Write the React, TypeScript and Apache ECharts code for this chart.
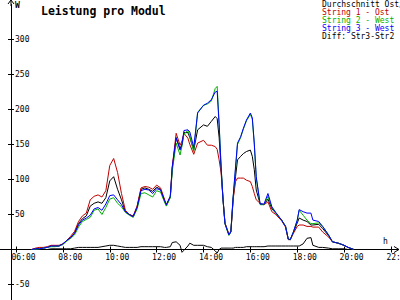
import React, { useEffect, useRef } from "react";
import * as echarts from "echarts";

const TIMES = [
  "06:40", "06:50", "07:00", "07:10", "07:20", "07:30", "07:40", "07:50",
  "08:00", "08:10", "08:20", "08:30", "08:40", "08:50", "09:00", "09:10",
  "09:20", "09:30", "09:40", "09:50", "10:00", "10:10", "10:20", "10:30",
  "10:40", "10:50", "11:00", "11:10", "11:20", "11:30", "11:40", "11:50",
  "12:00", "12:10", "12:20", "12:25", "12:35", "12:40", "12:50", "13:00",
  "13:05", "13:10", "13:20", "13:25", "13:35", "13:45", "14:00", "14:10",
  "14:20", "14:30", "14:35", "14:40", "14:45", "14:50", "14:55", "15:05",
  "15:10", "15:12", "15:16", "15:22", "15:27", "15:35", "15:42", "15:50",
  "16:00", "16:05", "16:10", "16:15", "16:25", "16:35", "16:45", "16:55",
  "17:05", "17:20", "17:30", "17:37", "17:42", "17:50", "18:00", "18:05",
  "18:15", "18:25", "18:35", "18:40", "18:55", "19:05", "19:20", "19:30",
  "19:45", "20:00", "20:10", "20:25",
];

const STRING1 = [
  0, 2, 3, 3, 4, 6, 6, 6,
  8, 13, 19, 26, 40, 48, 52, 71,
  76, 78, 75, 84, 120, 130, 110, 80,
  56, 50, 48, 62, 88, 90, 89, 86,
  92, 88, 72, 64, 76, 118, 166, 149,
  155, 166, 159, 150, 136, 152, 156, 149,
  149, 147, 143, 128, 110, 72, 38, 22,
  26, 40, 72, 97, 102, 102, 102, 99,
  97, 90, 80, 71, 66, 64, 68, 54,
  50, 41, 32, 14, 14, 23, 33, 35,
  35, 33, 33, 32, 32, 25, 18, 11,
  9, 6, 3, 0,
];

const STRING2 = [
  0, 0, 1, 2, 3, 4, 4, 5,
  7, 12, 16, 21, 32, 40, 43, 46,
  56, 58, 50, 60, 72, 74, 66, 61,
  53, 49, 46, 58, 80, 81, 78, 75,
  84, 82, 68, 62, 74, 112, 152, 135,
  148, 165, 170, 162, 140, 196, 206, 208,
  212, 230, 233, 180, 120, 71, 37, 20,
  25, 42, 75, 115, 150, 160, 172, 184,
  193, 186, 150, 102, 64, 64, 76, 60,
  52, 42, 33, 15, 14, 25, 42, 56,
  49, 42, 37, 37, 38, 33, 21, 11,
  9, 6, 3, 0,
];

const STRING3 = [
  0, 1, 1, 2, 3, 5, 5, 5,
  8, 13, 17, 23, 35, 42, 45, 49,
  58, 60, 56, 65, 77, 78, 71, 64,
  54, 50, 47, 60, 84, 86, 85, 80,
  87, 85, 70, 64, 76, 118, 159, 142,
  150, 170, 171, 168, 146, 195, 206, 209,
  214, 225, 226, 178, 118, 71, 37, 21,
  25, 42, 76, 118, 152, 161, 173, 185,
  195, 188, 152, 104, 65, 65, 80, 61,
  53, 42, 33, 15, 14, 25, 42, 57,
  54, 52, 52, 42, 40, 33, 21, 11,
  9, 6, 3, 0,
];

const AVERAGE = [
  0, 1, 2, 2, 3, 5, 5, 5,
  8, 13, 17, 24, 37, 44, 48, 62,
  66, 68, 66, 74, 98, 104, 86, 71,
  54, 50, 47, 61, 86, 88, 86, 83,
  89, 86, 70, 63, 75, 116, 160, 144,
  151, 167, 167, 160, 142, 171, 178, 176,
  183, 190, 187, 160, 116, 71, 37, 21,
  25, 41, 74, 104, 128, 133, 137, 140,
  142, 133, 114, 85, 65, 64, 72, 58,
  52, 42, 33, 15, 14, 24, 38, 45,
  42, 40, 35, 35, 36, 30, 20, 11,
  9, 6, 3, 0,
];

const DIFF = [
  0, 0, 0, 0, 0, 1, 1, 1,
  1, 1, 1, 2, 3, 3, 3, 3,
  3, 3, 4, 5, 6, 6, 5, 4,
  3, 3, 3, 3, 4, 4, 4, 4,
  4, 4, 3, 3, 4, 10, 11, 6,
  -4, -1, 5, 9, 6, 6, 6, 4,
  3, -2, -5, 0, 2, 2, 2, 2,
  2, 2, 2, 3, 3, 3, 3, 4,
  4, 4, 4, 4, 4, 4, 5, 5,
  5, 5, 5, 5, 5, 5, 5, 5,
  8, 16, 17, 6, 3, 3, 2, 1,
  1, 1, 0, 0,
];

const SERIES_NAMES = [
  "Durchschnitt Ost/West",
  "String 1 - Ost",
  "String 2 - West",
  "String 3 - West",
  "Diff: Str3-Str2",
];
const SERIES_COLORS = ["#000000", "#c00000", "#00b000", "#0000ff", "#000000"];

const Y_LABELS = [-50, 50, 100, 150, 200, 250, 300];
const X_HOURS = [6, 8, 10, 12, 14, 16, 18, 20, 22];

const MONO = "'DejaVu Sans Mono', 'Liberation Mono', monospace";

function toHours(s: string): number {
  const [h, m] = s.split(":").map(Number);
  return h + m / 60;
}

function pairs(values: number[]): number[][] {
  return TIMES.map((t, i) => [toHours(t), values[i]]);
}

function pad2(n: number): string {
  return n < 10 ? "0" + n : String(n);
}

export default function App() {
  const ref = useRef<HTMLDivElement>(null);

  useEffect(() => {
    if (!ref.current) return;
    const chart = echarts.init(ref.current, null, { renderer: "svg" });

    const GRID_LEFT = 16;
    const GRID_RIGHT = 9;
    const GRID_TOP = 4.5;
    const GRID_BOTTOM = -19.5;
    const Y_MIN = -100;
    const Y_MAX = 350;
    const Y_OFFSET = 5;
    // distance from grid bottom up to the zero line
    const plotH = 300 - GRID_TOP - GRID_BOTTOM;
    const X_OFFSET = -(plotH * (0 - Y_MIN)) / (Y_MAX - Y_MIN);

    const valuesBySeries = [AVERAGE, STRING1, STRING2, STRING3, DIFF];
    const drawOrder = [4, 0, 1, 2, 3];

    const xAxisBase = {
      type: "value",
      min: 6,
      max: 22,
      interval: 2,
      position: "bottom",
      offset: X_OFFSET,
      splitLine: { show: false },
      axisLine: { show: false, onZero: false },
    };
    const yAxisBase = {
      type: "value",
      min: Y_MIN,
      max: Y_MAX,
      interval: 50,
      position: "left",
      offset: Y_OFFSET,
      splitLine: { show: false },
    };

    chart.setOption({
      animation: false,
      backgroundColor: "#ffffff",
      textStyle: { fontFamily: MONO },
      title: {
        text: "Leistung pro Modul",
        left: 36,
        top: 0,
        textStyle: {
          fontFamily: MONO,
          fontSize: 11.5,
          fontWeight: "bold",
          color: "#000",
        },
      },
      legend: {
        orient: "vertical",
        left: 317,
        top: 0,
        itemGap: 0,
        itemWidth: 0,
        itemHeight: 8,
        icon: "none",
        selectedMode: false,
        padding: 0,
        textStyle: { fontFamily: MONO, fontSize: 8, lineHeight: 8, color: "#000" },
        data: SERIES_NAMES.map((n, i) => ({
          name: n,
          textStyle: { color: SERIES_COLORS[i] },
        })),
      },
      grid: {
        left: GRID_LEFT,
        right: GRID_RIGHT,
        top: GRID_TOP,
        bottom: GRID_BOTTOM,
        containLabel: false,
        outerBoundsMode: "none",
      },
      xAxis: [
        {
          ...xAxisBase,
          axisTick: { show: true, length: 3, inside: false, lineStyle: { color: "#000" } },
          axisLabel: {
            show: true,
            margin: 4,
            color: "#000",
            fontFamily: MONO,
            fontSize: 8,
            customValues: X_HOURS,
            formatter: (v: number) => "{a|" + pad2(v) + ":00}",
            rich: { a: { fontFamily: MONO, fontSize: 8, color: "#000", padding: [0, 0, 0, 15] } },
          },
        },
        {
          ...xAxisBase,
          axisTick: { show: true, length: 3, inside: true, lineStyle: { color: "#000" } },
          axisLabel: { show: false },
        },
      ],
      yAxis: [
        {
          ...yAxisBase,
          axisLine: { show: true, onZero: false, lineStyle: { color: "#000", width: 1 } },
          axisTick: {
            show: true,
            length: 3,
            inside: false,
            customValues: Y_LABELS,
            lineStyle: { color: "#000" },
          },
          axisLabel: {
            show: true,
            inside: true,
            margin: 4,
            color: "#000",
            fontFamily: MONO,
            fontSize: 8,
            customValues: Y_LABELS,
            formatter: (v: number) => (Y_LABELS.indexOf(v) >= 0 ? String(v) : ""),
          },
        },
        {
          ...yAxisBase,
          axisLine: { show: false, onZero: false },
          axisTick: {
            show: true,
            length: 3,
            inside: true,
            customValues: Y_LABELS,
            lineStyle: { color: "#000" },
          },
          axisLabel: { show: false },
        },
      ],
      series: drawOrder.map((i) => ({
        name: SERIES_NAMES[i],
        type: "line",
        xAxisIndex: 0,
        yAxisIndex: 0,
        data: pairs(valuesBySeries[i]),
        showSymbol: false,
        symbol: "none",
        color: SERIES_COLORS[i],
        lineStyle: { color: SERIES_COLORS[i], width: 1 },
        emphasis: { disabled: true },
      })),
    });

    // axis decorations (arrows, extended x-axis line, unit labels)
    const zeroY = (chart.convertToPixel({ gridIndex: 0 }, [6, 0]) as number[])[1];
    const yAxisX = GRID_LEFT - Y_OFFSET;
    const W = 400;
    chart.setOption({
      graphic: [
        {
          type: "line",
          shape: { x1: 0, y1: zeroY, x2: W - 1, y2: zeroY },
          style: { stroke: "#000", lineWidth: 1 },
        },
        {
          type: "polyline",
          shape: { points: [[W - 6, zeroY - 3], [W - 1, zeroY], [W - 6, zeroY + 3]] },
          style: { stroke: "#000", lineWidth: 1, fill: "none" },
        },
        {
          type: "line",
          shape: { x1: yAxisX, y1: 0, x2: yAxisX, y2: 6 },
          style: { stroke: "#000", lineWidth: 1 },
        },
        {
          type: "polyline",
          shape: { points: [[yAxisX - 3, 4], [yAxisX, 0], [yAxisX + 3, 4]] },
          style: { stroke: "#000", lineWidth: 1, fill: "none" },
        },
        {
          type: "text",
          x: yAxisX + 4,
          y: 1,
          style: { text: "W", font: "bold 8px " + MONO, fill: "#000" },
        },
        {
          type: "text",
          x: 383,
          y: zeroY - 12,
          style: { text: "h", font: "8px " + MONO, fill: "#000" },
        },
      ],
    });

    return () => chart.dispose();
  }, []);

  return (
    <div
      ref={ref}
      style={{ position: "absolute", left: 0, top: 0, width: 400, height: 300 }}
    />
  );
}
